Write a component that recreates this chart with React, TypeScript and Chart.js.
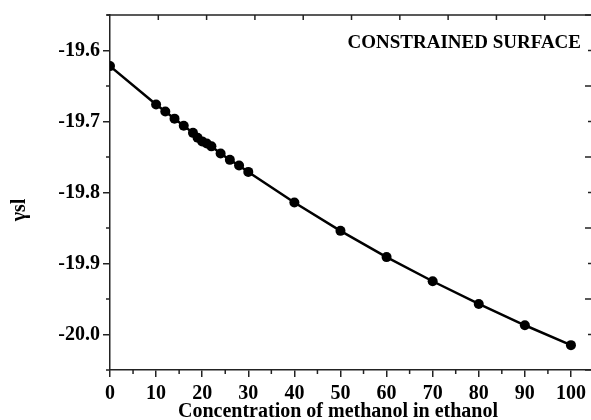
import React, { useEffect, useRef } from 'react';
import { Chart, registerables } from 'chart.js';

Chart.register(...registerables);

// ---- data ----
const concentration = [0, 10, 12, 14, 16, 18, 19, 20, 21, 22, 24, 26, 28, 30, 40, 50, 60, 70, 80, 90, 100];
const gammaSL = [
  -19.622, -19.676, -19.686, -19.696, -19.706, -19.716, -19.723, -19.728, -19.731, -19.735,
  -19.745, -19.754, -19.762, -19.771, -19.814, -19.854, -19.891, -19.925, -19.957, -19.987, -20.015,
];
const xTicks = [0, 10, 20, 30, 40, 50, 60, 70, 80, 90, 100];
const xMinorTicks = [5, 15, 25, 35, 45, 55, 65, 75, 85, 95];
const yTicks = [-20.0, -19.9, -19.8, -19.7, -19.6];
const yMinorTicks = [-20.05, -19.95, -19.85, -19.75, -19.65, -19.55];
const topTicks = [10, 20, 30, 40, 50, 60, 70, 80, 90];
const xTitle = 'Concentration of methanol in ethanol';
const yTitle = 'γsl';
const annotationText = 'CONSTRAINED SURFACE';

const FONT = '"Liberation Serif", "Times New Roman", serif';
const AXIS = '#222';

const decorPlugin = {
  id: 'decor',
  afterDraw(chart: any) {
    const ctx = chart.ctx;
    const { left, right, top, bottom } = chart.chartArea;
    const xs = chart.scales.x;
    const ys = chart.scales.y;
    const x2 = chart.scales.x2;
    ctx.save();
    ctx.strokeStyle = AXIS;
    ctx.lineWidth = 1.5;
    const line = (a: number, b: number, c: number, d: number) => {
      ctx.beginPath();
      ctx.moveTo(a, b);
      ctx.lineTo(c, d);
      ctx.stroke();
    };
    // top frame line
    line(left - 3, top, right + 2, top);
    // top ticks (inward)
    topTicks.forEach((v) => {
      const px = x2.getPixelForValue(v);
      line(px, top, px, top + 5);
    });
    // bottom minor ticks
    xMinorTicks.forEach((v) => {
      const px = xs.getPixelForValue(v);
      line(px, bottom, px, bottom + 4);
    });
    // left minor ticks
    yMinorTicks.forEach((v) => {
      const py = ys.getPixelForValue(v);
      line(left - 4, py, left, py);
    });
    // right side ticks (inward)
    yTicks.forEach((v) => {
      const py = ys.getPixelForValue(v);
      line(right - 6, py, right, py);
    });
    yMinorTicks.forEach((v) => {
      const py = ys.getPixelForValue(v);
      line(right - 9, py, right, py);
    });
    // annotation
    ctx.fillStyle = '#000';
    ctx.font = `bold 19px ${FONT}`;
    ctx.textAlign = 'right';
    ctx.textBaseline = 'middle';
    ctx.fillText(annotationText, 581, 43);
    // x title
    ctx.font = `bold 20px ${FONT}`;
    ctx.textAlign = 'center';
    ctx.fillText(xTitle, 338, 412);
    // y title
    ctx.translate(20, 210);
    ctx.rotate(-Math.PI / 2);
    ctx.font = `bold 20px ${FONT}`;
    ctx.fillText(yTitle, 0, 0);
    ctx.restore();
  },
};

export default function App() {
  const ref = useRef<HTMLCanvasElement>(null);
  useEffect(() => {
    if (!ref.current) return;
    const chart = new Chart(ref.current, {
      type: 'line',
      data: {
        datasets: [
          {
            data: concentration.map((c, i) => ({ x: c, y: gammaSL[i] })),
            borderColor: '#000',
            borderWidth: 2.5,
            pointRadius: 5,
            pointBackgroundColor: '#000',
            pointBorderWidth: 0,
            tension: 0,
          },
        ],
      },
      options: {
        animation: false,
        responsive: false,
        devicePixelRatio: 1,
        layout: { padding: { top: 15, right: 6, left: 0, bottom: 0 } },
        plugins: { legend: { display: false }, tooltip: { enabled: false } },
        scales: {
          x: {
            type: 'linear',
            position: 'bottom',
            min: 0,
            max: 105,
            afterBuildTicks: (s: any) => {
              s.ticks = xTicks.map((v) => ({ value: v }));
            },
            afterFit: (s: any) => {
              s.height = 50;
            },
            grid: { drawOnChartArea: false, drawTicks: true, tickLength: 7, color: AXIS, lineWidth: 1.5 },
            border: { display: true, color: AXIS, width: 1.5 },
            ticks: {
              color: '#000',
              padding: 5,
              maxRotation: 0,
              font: { family: FONT, size: 20, weight: 'bold' },
              callback: (v: any) => String(v),
            },
          },
          x2: {
            type: 'linear',
            position: 'top',
            display: false,
            min: 0,
            max: 100.2,
          },
          y: {
            type: 'linear',
            min: -20.05,
            max: -19.55,
            afterBuildTicks: (s: any) => {
              s.ticks = yTicks.map((v) => ({ value: v }));
            },
            afterFit: (s: any) => {
              s.width = 110;
            },
            grid: { drawOnChartArea: false, drawTicks: true, tickLength: 7, color: AXIS, lineWidth: 1.5 },
            border: { display: true, color: AXIS, width: 1.5 },
            ticks: {
              color: '#000',
              padding: 3,
              font: { family: FONT, size: 20, weight: 'bold' },
              callback: (v: any) => Number(v).toFixed(1),
            },
          },
        },
      } as any,
      plugins: [decorPlugin],
    });
    return () => chart.destroy();
  }, []);
  return (
    <div style={{ position: 'absolute', left: 0, top: 0, width: 591, height: 420, overflow: 'hidden', background: '#fff' }}>
      <canvas ref={ref} width={600} height={420} style={{ display: 'block', width: 600, height: 420 }} />
    </div>
  );
}
